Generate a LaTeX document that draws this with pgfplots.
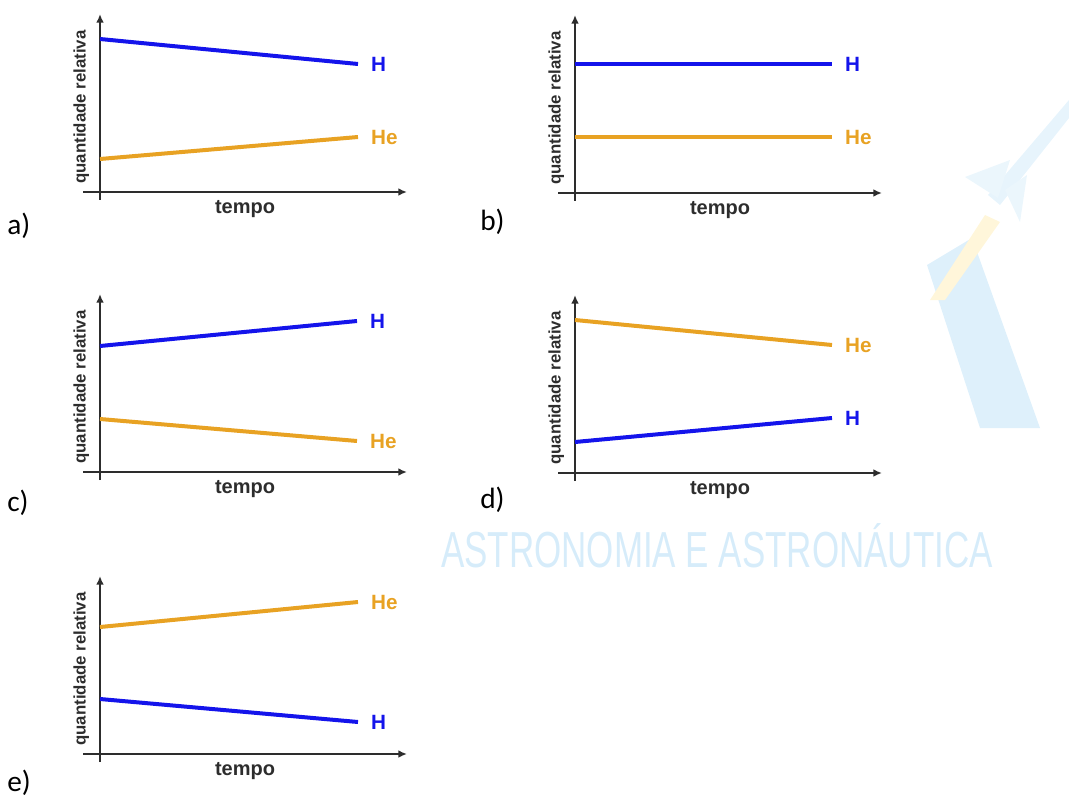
\documentclass[border=0pt]{standalone}
\usepackage{pgfplots}
\pgfplotsset{compat=1.18}
\usetikzlibrary{arrows.meta}
\usepackage{fontspec}
\setmainfont{Liberation Sans}
\newfontfamily\calibri{Carlito}
\definecolor{hblue}{RGB}{20,20,235}
\definecolor{heorange}{RGB}{232,162,35}
\definecolor{axgray}{RGB}{45,45,45}
\definecolor{wmblue}{RGB}{214,236,250}
\definecolor{wmyellow}{RGB}{255,246,218}

\tikzset{
  hlab/.style={anchor=west, xshift=5pt, font=\fontsize{15.5}{18}\selectfont\bfseries, text=hblue},
  helab/.style={anchor=west, xshift=5pt, font=\fontsize{15.5}{18}\selectfont\bfseries, text=heorange},
}
\pgfplotsset{
  panel/.style={
    axis lines=middle,
    axis line style={axgray, line width=1.4pt, -{Latex[length=6.5pt,width=5.8pt]}},
    xmin=-17, xmax=307, ymin=-8, ymax=178,
    scale only axis, width=243pt, height=139.5pt,
    ticks=none, clip=false, anchor=origin,
    xlabel={tempo}, ylabel={quantidade relativa},
    xlabel style={at={(axis description cs:0.5,0.0)}, anchor=north, inner sep=0pt,
      font=\fontsize{15}{18}\selectfont\bfseries, text=axgray},
    ylabel style={at={(axis description cs:-0.005,0.5)}, anchor=center, rotate=90, inner sep=0pt,
      font=\fontsize{12.6}{15}\selectfont\bfseries, text=axgray},
  },
  hline/.style={hblue, line width=3pt, no marks},
  heline/.style={heorange, line width=3pt, no marks},
}

\begin{document}
\begin{tikzpicture}[x=0.75pt, y=-0.75pt]
\path[use as bounding box] (0,0) rectangle (1069,798);

% faint background watermark (logo)
\fill[wmblue!80] (927,265) -- (972,238) -- (1040,428) -- (980,428) -- cycle;
\fill[wmyellow] (930,300) -- (985,215) -- (1000,222) -- (945,300) -- cycle;
\fill[wmblue!60] (1069,100) -- (1069,118) -- (1000,205) -- (988,195) -- cycle;
\fill[wmblue!50] (965,177) -- (1010,160) -- (998,198) -- cycle;
\fill[wmblue!50] (1005,190) -- (1027,175) -- (1020,222) -- cycle;
\node[text=wmblue, font=\fontsize{38}{40}\selectfont, xscale=0.69, inner sep=0pt] at (717,546) {ASTRONOMIA E ASTRONÁUTICA};

% a)
\begin{axis}[panel, at={(75pt,-144pt)}]
\addplot[hline] coordinates {(0,153) (258,128)} node[pos=1, hlab] {H};
\addplot[heline] coordinates {(0,33) (258,55)} node[pos=1, helab] {He};
\end{axis}
% b)
\begin{axis}[panel, at={(431.25pt,-144.75pt)}]
\addplot[hline] coordinates {(0,129) (257,129)} node[pos=1, hlab] {H};
\addplot[heline] coordinates {(0,56) (257,56)} node[pos=1, helab] {He};
\end{axis}
% c)
\begin{axis}[panel, at={(75pt,-354pt)}]
\addplot[hline] coordinates {(0,126) (257,151)} node[pos=1, hlab] {H};
\addplot[heline] coordinates {(0,53) (257,31)} node[pos=1, helab] {He};
\end{axis}
% d)
\begin{axis}[panel, at={(431.25pt,-354.75pt)}]
\addplot[heline] coordinates {(0,153) (257,128)} node[pos=1, helab] {He};
\addplot[hline] coordinates {(0,31) (257,55)} node[pos=1, hlab] {H};
\end{axis}
% e)
\begin{axis}[panel, at={(75pt,-565.5pt)}]
\addplot[heline] coordinates {(0,127) (258,152)} node[pos=1, helab] {He};
\addplot[hline] coordinates {(0,55) (258,32)} node[pos=1, hlab] {H};
\end{axis}

\begin{scope}[every node/.style={anchor=west, inner sep=0pt, font=\calibri\fontsize{22}{24}\selectfont}]
\node at (7,226) {a)};
\node at (480,222) {b)};
\node at (7,503) {c)};
\node at (480,500) {d)};
\node at (7,783) {e)};
\end{scope}
\end{tikzpicture}
\end{document}
